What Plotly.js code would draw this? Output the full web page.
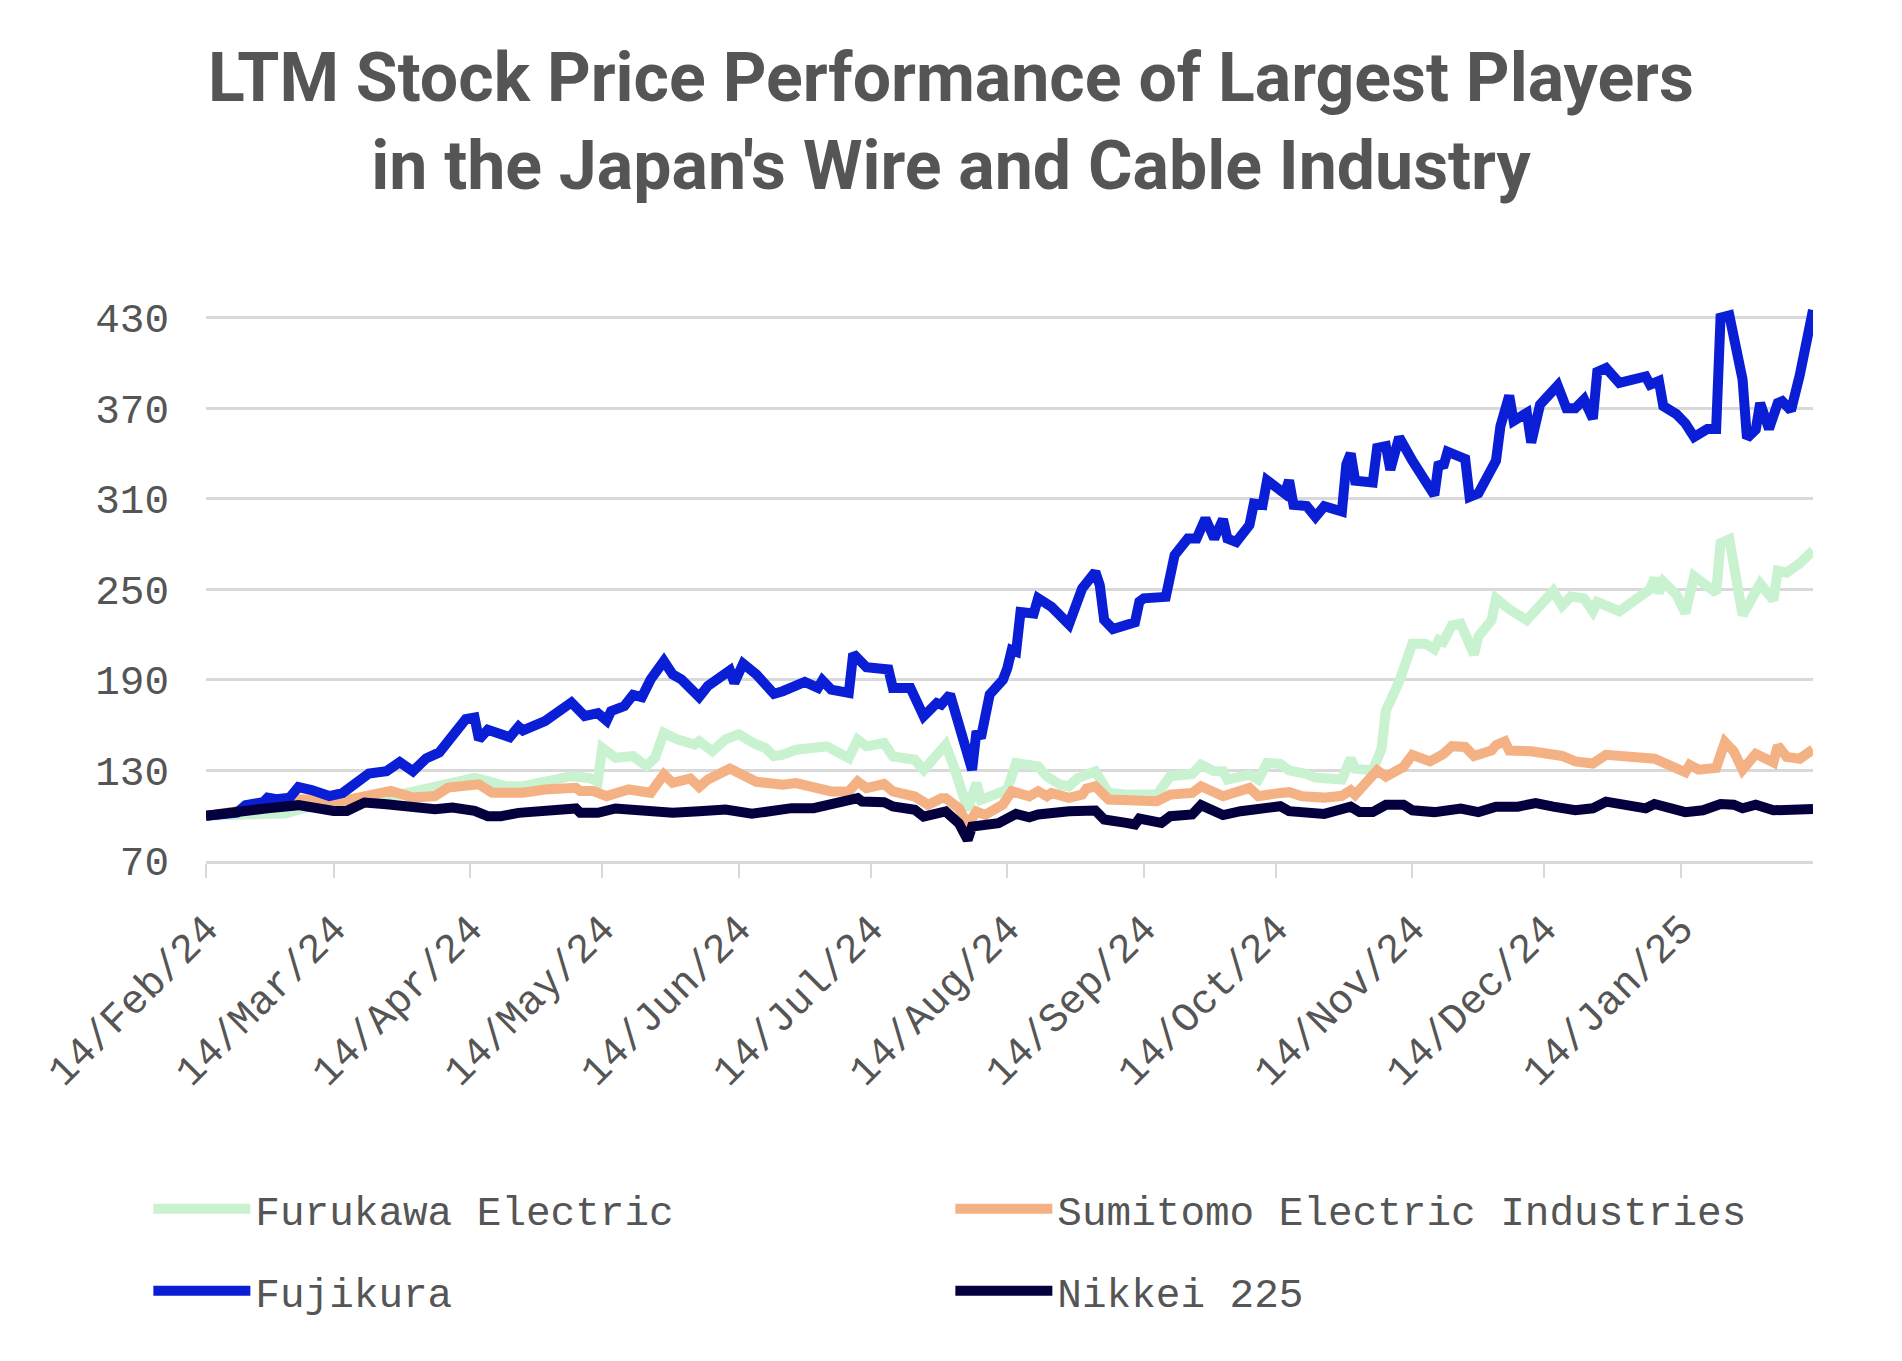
<!DOCTYPE html>
<html>
<head>
<meta charset="utf-8">
<script src="https://cdn.plot.ly/plotly-3.0.1.min.js"></script>
<style>
  html, body { margin: 0; padding: 0; background: #ffffff; }
  #chart { width: 1902px; height: 1361px; }
</style>
</head>
<body>
<div id="chart"></div>
<script>
// ---------------- DATA ----------------
const chartTitle = "LTM Stock Price Performance of Largest Players<br>in the Japan's Wire and Cable Industry";

const seriesNames = ["Furukawa Electric", "Sumitomo Electric Industries", "Fujikura", "Nikkei 225"];
const seriesColors = ["#c9f2d0", "#f4b183", "#0a1ed6", "#03003d"];

const yTickValues = [70, 130, 190, 250, 310, 370, 430];
const xTickDates = ["2024-02-14","2024-03-14","2024-04-14","2024-05-14","2024-06-14","2024-07-14",
                    "2024-08-14","2024-09-14","2024-10-14","2024-11-14","2024-12-14","2025-01-14"];
const xRange = ["2024-02-14", "2025-02-13"];

const furukawaDates = ["2024-02-14","2024-02-21","2024-02-27","2024-03-03","2024-03-06","2024-03-09","2024-03-15","2024-03-22","2024-03-29","2024-04-04","2024-04-08","2024-04-12","2024-04-15","2024-04-18","2024-04-22","2024-04-26","2024-05-02","2024-05-07","2024-05-11","2024-05-13","2024-05-14","2024-05-17","2024-05-21","2024-05-24","2024-05-26","2024-05-28","2024-05-31","2024-06-04","2024-06-05","2024-06-08","2024-06-11","2024-06-14","2024-06-18","2024-06-20","2024-06-22","2024-06-24","2024-06-27","2024-07-04","2024-07-09","2024-07-11","2024-07-13","2024-07-17","2024-07-19","2024-07-24","2024-07-26","2024-07-31","2024-08-02","2024-08-05","2024-08-07","2024-08-08","2024-08-14","2024-08-16","2024-08-21","2024-08-23","2024-08-26","2024-08-28","2024-08-30","2024-09-03","2024-09-06","2024-09-10","2024-09-17","2024-09-20","2024-09-25","2024-09-27","2024-09-30","2024-10-02","2024-10-03","2024-10-08","2024-10-10","2024-10-12","2024-10-15","2024-10-17","2024-10-21","2024-10-23","2024-10-29","2024-10-31","2024-11-01","2024-11-05","2024-11-07","2024-11-08","2024-11-11","2024-11-14","2024-11-17","2024-11-19","2024-11-20","2024-11-21","2024-11-23","2024-11-25","2024-11-28","2024-11-29","2024-12-02","2024-12-03","2024-12-06","2024-12-10","2024-12-16","2024-12-18","2024-12-20","2024-12-23","2024-12-25","2024-12-26","2024-12-31","2025-01-07","2025-01-08","2025-01-09","2025-01-10","2025-01-13","2025-01-15","2025-01-17","2025-01-22","2025-01-23","2025-01-25","2025-01-28","2025-02-01","2025-02-04","2025-02-05","2025-02-07","2025-02-10","2025-02-13"];
const furukawaValues = [100,101,101.4,101.5,104,106,108,112,114,118,122,124,125,122.9,119.6,119.6,124,126.2,125,122.5,145,138.4,139.5,132.9,138.4,155,150.6,147.2,149.4,142.8,150.6,153.9,147.2,145,139.5,140.4,143.7,146,138.2,150.4,146,148.2,139.3,137.1,130.4,147,131.5,103.9,121.6,110.5,117.2,134.9,132.7,126,120.5,119.5,125,129.4,115.1,114,114,126.1,127.7,133.8,129.4,129.4,123.9,127.2,123.9,134.9,134.3,130,127.6,125.2,124,137.9,131.2,130,144.4,169.6,188.8,214,214,210.4,216.4,215.2,226,227.2,206.8,218.8,229.6,244,236.8,229.6,248.8,239.2,245.2,244,235.5,241.6,235.5,250.1,257.4,247.7,255,246.4,234.2,258.6,247.7,280.6,283.1,233,253.8,242.8,262.3,261.1,267.2,275.7];

const sumitomoDates = ["2024-02-14","2024-02-21","2024-02-26","2024-03-06","2024-03-16","2024-03-22","2024-03-27","2024-04-01","2024-04-06","2024-04-09","2024-04-13","2024-04-16","2024-04-19","2024-04-22","2024-04-26","2024-05-01","2024-05-08","2024-05-09","2024-05-12","2024-05-15","2024-05-20","2024-05-25","2024-05-28","2024-05-30","2024-06-03","2024-06-05","2024-06-07","2024-06-12","2024-06-14","2024-06-18","2024-06-24","2024-06-27","2024-07-05","2024-07-09","2024-07-11","2024-07-13","2024-07-17","2024-07-19","2024-07-24","2024-07-27","2024-07-30","2024-07-31","2024-08-03","2024-08-05","2024-08-07","2024-08-09","2024-08-13","2024-08-15","2024-08-19","2024-08-21","2024-08-23","2024-08-24","2024-08-28","2024-08-31","2024-09-01","2024-09-03","2024-09-06","2024-09-12","2024-09-17","2024-09-20","2024-09-25","2024-09-27","2024-10-02","2024-10-08","2024-10-10","2024-10-15","2024-10-17","2024-10-20","2024-10-25","2024-10-29","2024-10-31","2024-11-01","2024-11-06","2024-11-08","2024-11-12","2024-11-14","2024-11-18","2024-11-21","2024-11-23","2024-11-26","2024-11-28","2024-12-02","2024-12-03","2024-12-05","2024-12-06","2024-12-11","2024-12-16","2024-12-18","2024-12-21","2024-12-25","2024-12-28","2025-01-08","2025-01-15","2025-01-16","2025-01-18","2025-01-22","2025-01-24","2025-01-26","2025-01-28","2025-01-31","2025-02-04","2025-02-05","2025-02-07","2025-02-10","2025-02-13"];
const sumitomoValues = [100,103,108.7,110.9,109.8,114.2,116.4,112,113,118.6,120.8,120.8,115.2,115.2,115.2,117.4,118.5,116.3,116.3,113,117.4,115.2,127.3,121.8,124.7,119,124,131.3,127.8,122.5,120.5,121.6,116.1,116.1,122.7,118.3,121,116.1,112.7,107.2,111.6,111.6,105,93.9,102.8,100.6,107.4,116.2,112.9,116.2,112.9,115.1,111.8,114,118,119.5,110.7,109.6,109.6,114,115.1,119.5,112.9,118.4,112.9,115.1,115.6,112.9,112,113.2,116.8,113.9,130,125.9,132.4,140.3,136,140.8,146.1,145.6,139.6,143.2,146.8,149.2,143.2,142.7,139.6,139.6,136,134.6,140.3,137.8,128.8,133.7,130.5,131.7,148.8,142.7,130.5,141,135.4,146.4,139,137.8,143.9];

const fujikuraDates = ["2024-02-14","2024-02-21","2024-02-23","2024-02-27","2024-02-28","2024-03-01","2024-03-04","2024-03-06","2024-03-09","2024-03-13","2024-03-16","2024-03-19","2024-03-22","2024-03-26","2024-03-29","2024-04-01","2024-04-04","2024-04-07","2024-04-10","2024-04-13","2024-04-15","2024-04-16","2024-04-18","2024-04-21","2024-04-23","2024-04-25","2024-04-26","2024-05-01","2024-05-07","2024-05-10","2024-05-13","2024-05-15","2024-05-16","2024-05-19","2024-05-21","2024-05-23","2024-05-25","2024-05-28","2024-05-30","2024-06-01","2024-06-05","2024-06-07","2024-06-12","2024-06-13","2024-06-15","2024-06-18","2024-06-22","2024-06-24","2024-06-26","2024-06-29","2024-07-02","2024-07-03","2024-07-05","2024-07-09","2024-07-10","2024-07-13","2024-07-18","2024-07-19","2024-07-23","2024-07-26","2024-07-29","2024-07-30","2024-08-01","2024-08-06","2024-08-07","2024-08-08","2024-08-10","2024-08-13","2024-08-14","2024-08-15","2024-08-16","2024-08-17","2024-08-20","2024-08-21","2024-08-24","2024-08-28","2024-08-31","2024-09-03","2024-09-04","2024-09-05","2024-09-07","2024-09-12","2024-09-13","2024-09-14","2024-09-19","2024-09-21","2024-09-24","2024-09-26","2024-09-28","2024-09-30","2024-10-02","2024-10-03","2024-10-05","2024-10-08","2024-10-09","2024-10-11","2024-10-12","2024-10-16","2024-10-17","2024-10-18","2024-10-21","2024-10-23","2024-10-25","2024-10-29","2024-10-30","2024-10-31","2024-11-01","2024-11-05","2024-11-06","2024-11-08","2024-11-09","2024-11-11","2024-11-14","2024-11-19","2024-11-20","2024-11-21","2024-11-22","2024-11-26","2024-11-27","2024-11-29","2024-12-03","2024-12-04","2024-12-06","2024-12-07","2024-12-10","2024-12-11","2024-12-13","2024-12-17","2024-12-19","2024-12-21","2024-12-23","2024-12-25","2024-12-26","2024-12-28","2024-12-31","2025-01-06","2025-01-07","2025-01-09","2025-01-10","2025-01-13","2025-01-15","2025-01-17","2025-01-20","2025-01-22","2025-01-23","2025-01-25","2025-01-28","2025-01-29","2025-01-31","2025-02-01","2025-02-03","2025-02-05","2025-02-06","2025-02-08","2025-02-10","2025-02-13"];
const fujikuraValues = [100,102,107,109,112,111,112,119,117,113,115,122.5,128,129.5,135.5,129.5,138,142,154,164,165,150.5,157,153,152,159,156.5,162.7,175,166,168,163,169.3,172.6,180,178.6,190.3,202.5,193.6,190.3,178.6,186,196.3,188,200.7,193.6,180.8,182.5,184.8,188.7,184.7,189.6,183.6,181.4,207.3,198.4,196.9,184.7,184.7,165.9,174.7,173.6,180.3,130.4,155.9,151.5,180.3,190,197.7,209.8,208.7,235,234,244,238.5,226.8,250.6,261.6,252.8,229.7,223.7,228.1,241.8,244,245,272.6,283.6,283.6,296.9,283.6,296.4,283.6,281.4,292.5,306.8,306,322.2,313.4,322.2,306,305.2,298,305,301.6,332.8,340,322,320.8,343.6,344.8,329.2,350.8,335.2,312.4,334,330.9,341.2,336.4,311.2,313.6,335.2,358,378.4,361.6,366.9,347.2,372.4,385,370,370,375.8,363,394.1,396.6,386.8,391,385.6,388,371.4,366,360,350.9,356.3,356.3,430,431.5,389,350.2,355.8,373.4,356.3,373.4,374.6,368.5,392,435];

const nikkeiDates = ["2024-02-14","2024-02-22","2024-02-28","2024-03-06","2024-03-09","2024-03-14","2024-03-17","2024-03-21","2024-03-26","2024-04-01","2024-04-06","2024-04-10","2024-04-15","2024-04-18","2024-04-21","2024-04-25","2024-05-01","2024-05-08","2024-05-09","2024-05-13","2024-05-17","2024-05-23","2024-05-26","2024-05-30","2024-06-05","2024-06-11","2024-06-17","2024-06-22","2024-06-24","2024-06-26","2024-07-01","2024-07-05","2024-07-11","2024-07-12","2024-07-17","2024-07-19","2024-07-24","2024-07-26","2024-07-31","2024-08-03","2024-08-05","2024-08-06","2024-08-12","2024-08-16","2024-08-19","2024-08-21","2024-08-23","2024-08-28","2024-09-03","2024-09-05","2024-09-10","2024-09-12","2024-09-13","2024-09-18","2024-09-20","2024-09-25","2024-09-27","2024-09-30","2024-10-02","2024-10-06","2024-10-10","2024-10-15","2024-10-17","2024-10-20","2024-10-25","2024-10-31","2024-11-02","2024-11-05","2024-11-08","2024-11-12","2024-11-14","2024-11-19","2024-11-25","2024-11-29","2024-12-03","2024-12-08","2024-12-12","2024-12-16","2024-12-21","2024-12-25","2024-12-28","2025-01-06","2025-01-08","2025-01-15","2025-01-19","2025-01-23","2025-01-26","2025-01-28","2025-01-31","2025-02-04","2025-02-09","2025-02-13"];
const nikkeiValues = [100,102,105,107,105.4,103.2,103.2,108.7,107.6,105.8,104.3,105.4,103.2,99.7,99.7,101.9,103,104.8,101.9,101.9,104.8,103.5,101.9,101.9,103,104.1,101.3,103,103,105,105,108.3,111.6,109.4,109,106.1,103.9,99.4,102.8,95,83.9,92.8,95,101.2,99,100.8,101.7,103,103.4,97.5,95.3,94.2,98.1,95.3,99.7,100.8,107,101.9,100.4,103,104.8,106.3,103,101.9,101.2,106,102.4,102.4,107.2,107.2,103.6,102.4,104.8,102.4,106,106,108.4,106,103.6,104.9,109.3,104.9,107.8,102.4,103.6,107.8,107.3,104.9,107.3,103.6,104.4,104.4];

// ---------------- CHART ----------------
const monoFont = "Liberation Mono, DejaVu Sans Mono, monospace";
const textColor = "#555555";
const gridColor = "#d9d9d9";

const xs = [furukawaDates, sumitomoDates, fujikuraDates, nikkeiDates];
const ys = [furukawaValues, sumitomoValues, fujikuraValues, nikkeiValues];
const legendIds = ["legend", "legend", "legend2", "legend2"];

const traces = seriesNames.map((name, i) => ({
  type: "scatter",
  mode: "lines",
  name: name,
  x: xs[i],
  y: ys[i],
  line: { color: seriesColors[i], width: 10, shape: "linear" },
  legend: legendIds[i],
  hoverinfo: "x+y+name"
}));

const legendCommon = {
  orientation: "h",
  xref: "container",
  yref: "container",
  xanchor: "left",
  yanchor: "middle",
  x: 0.078,
  font: { family: monoFont, size: 41, color: textColor },
  itemwidth: 97,
  entrywidth: 690,
  entrywidthmode: "pixels",
  bgcolor: "rgba(0,0,0,0)",
  traceorder: "normal"
};

const layout = {
  width: 1902,
  height: 1361,
  paper_bgcolor: "#ffffff",
  plot_bgcolor: "#ffffff",
  margin: { l: 206, r: 89, t: 295, b: 500 },
  title: {
    text: chartTitle,
    font: { family: "Roboto, Inter, sans-serif", size: 68, weight: 700, color: textColor },
    x: 0.5,
    xanchor: "center",
    y: 0.926,
    yanchor: "top"
  },
  xaxis: {
    type: "date",
    range: xRange,
    tickvals: xTickDates,
    tickformat: "%d/%b/%y",
    tickangle: -45,
    tickfont: { family: monoFont, size: 41, color: textColor },
    showgrid: false,
    zeroline: false,
    showline: true,
    linecolor: gridColor,
    linewidth: 3,
    ticks: "outside",
    ticklen: 14,
    tickwidth: 2,
    tickcolor: gridColor,
    ticklabelstandoff: 10,
    fixedrange: true
  },
  yaxis: {
    range: [70, 445],
    tickvals: yTickValues,
    tickfont: { family: monoFont, size: 41, color: textColor },
    showgrid: true,
    gridcolor: gridColor,
    gridwidth: 3,
    zeroline: false,
    showline: false,
    ticks: "",
    ticklabelstandoff: 36,
    fixedrange: true
  },
  showlegend: true,
  legend: Object.assign({}, legendCommon, { y: 1 - 1209 / 1361 }),
  legend2: Object.assign({}, legendCommon, { y: 1 - 1291 / 1361 })
};

Plotly.newPlot("chart", traces, layout, { displayModeBar: false, responsive: false });
</script>
</body>
</html>
